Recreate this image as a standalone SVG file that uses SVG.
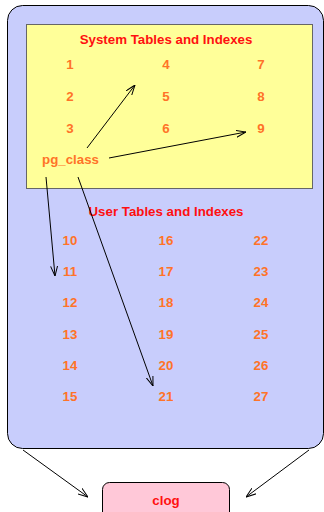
<svg xmlns="http://www.w3.org/2000/svg" width="324" height="512" viewBox="0 0 324 512">
  <style>
    .title { font-family: "Liberation Sans", Arial, sans-serif; font-weight: bold; font-size: 13.3px; fill: #ff1010; text-anchor: middle; }
    .num { font-family: "Liberation Sans", Arial, sans-serif; font-weight: bold; font-size: 13.3px; fill: #ff7328; text-anchor: middle; }
    .conn { stroke: #000; stroke-width: 1; fill: none; marker-end: url(#arrow); }
  </style>
  <defs>
    <marker id="arrow" viewBox="0 0 10 8" refX="10" refY="4" markerWidth="10" markerHeight="8" markerUnits="userSpaceOnUse" orient="auto">
      <path d="M0,0.5 L10,4 L0,7.5" fill="none" stroke="#000" stroke-width="1"/>
    </marker>
  </defs>

  <!-- database cluster -->
  <g id="database">
    <rect x="7.5" y="5.5" width="316" height="443" rx="15" ry="15" fill="#c8cdfc" stroke="#000" stroke-width="1"/>
  </g>

  <!-- system catalog area -->
  <g id="system-tables">
    <rect x="26.5" y="24.5" width="286" height="164" fill="#ffff99" stroke="#666" stroke-width="1"/>
    <text class="title" x="166" y="44">System Tables and Indexes</text>
    <text class="num" x="70" y="69">1</text>
    <text class="num" x="166" y="69">4</text>
    <text class="num" x="261" y="69">7</text>
    <text class="num" x="70" y="101">2</text>
    <text class="num" x="166" y="101">5</text>
    <text class="num" x="261" y="101">8</text>
    <text class="num" x="70" y="133">3</text>
    <text class="num" x="166" y="133">6</text>
    <text class="num" x="261" y="133">9</text>
  </g>

  <g id="pg_class">
    <text class="num" x="70.5" y="164">pg_class</text>
  </g>

  <!-- user relations -->
  <g id="user-tables">
    <text class="title" x="166" y="216">User Tables and Indexes</text>
    <text class="num" x="70" y="245">10</text>
    <text class="num" x="166" y="245">16</text>
    <text class="num" x="261" y="245">22</text>
    <text class="num" x="70" y="276">11</text>
    <text class="num" x="166" y="276">17</text>
    <text class="num" x="261" y="276">23</text>
    <text class="num" x="70" y="307">12</text>
    <text class="num" x="166" y="307">18</text>
    <text class="num" x="261" y="307">24</text>
    <text class="num" x="70" y="339">13</text>
    <text class="num" x="166" y="339">19</text>
    <text class="num" x="261" y="339">25</text>
    <text class="num" x="70" y="370">14</text>
    <text class="num" x="166" y="370">20</text>
    <text class="num" x="261" y="370">26</text>
    <text class="num" x="70" y="401">15</text>
    <text class="num" x="166" y="401">21</text>
    <text class="num" x="261" y="401">27</text>
  </g>

  <!-- commit log -->
  <g id="clog">
    <rect x="102.5" y="482.5" width="127" height="40" rx="7" ry="7" fill="#ffc8d8" stroke="#000" stroke-width="1"/>
    <text class="title" x="166" y="505">clog</text>
  </g>

  <!-- connectors -->
  <g id="connectors">
    <line class="conn" x1="87" y1="148" x2="135" y2="85"/>
    <line class="conn" x1="109" y1="158" x2="246" y2="132"/>
    <line class="conn" x1="46" y1="177" x2="55" y2="276"/>
    <line class="conn" x1="78" y1="177" x2="153" y2="386"/>
    <line class="conn" x1="23" y1="450" x2="88" y2="497"/>
    <line class="conn" x1="309" y1="450" x2="246" y2="497"/>
  </g>
</svg>
